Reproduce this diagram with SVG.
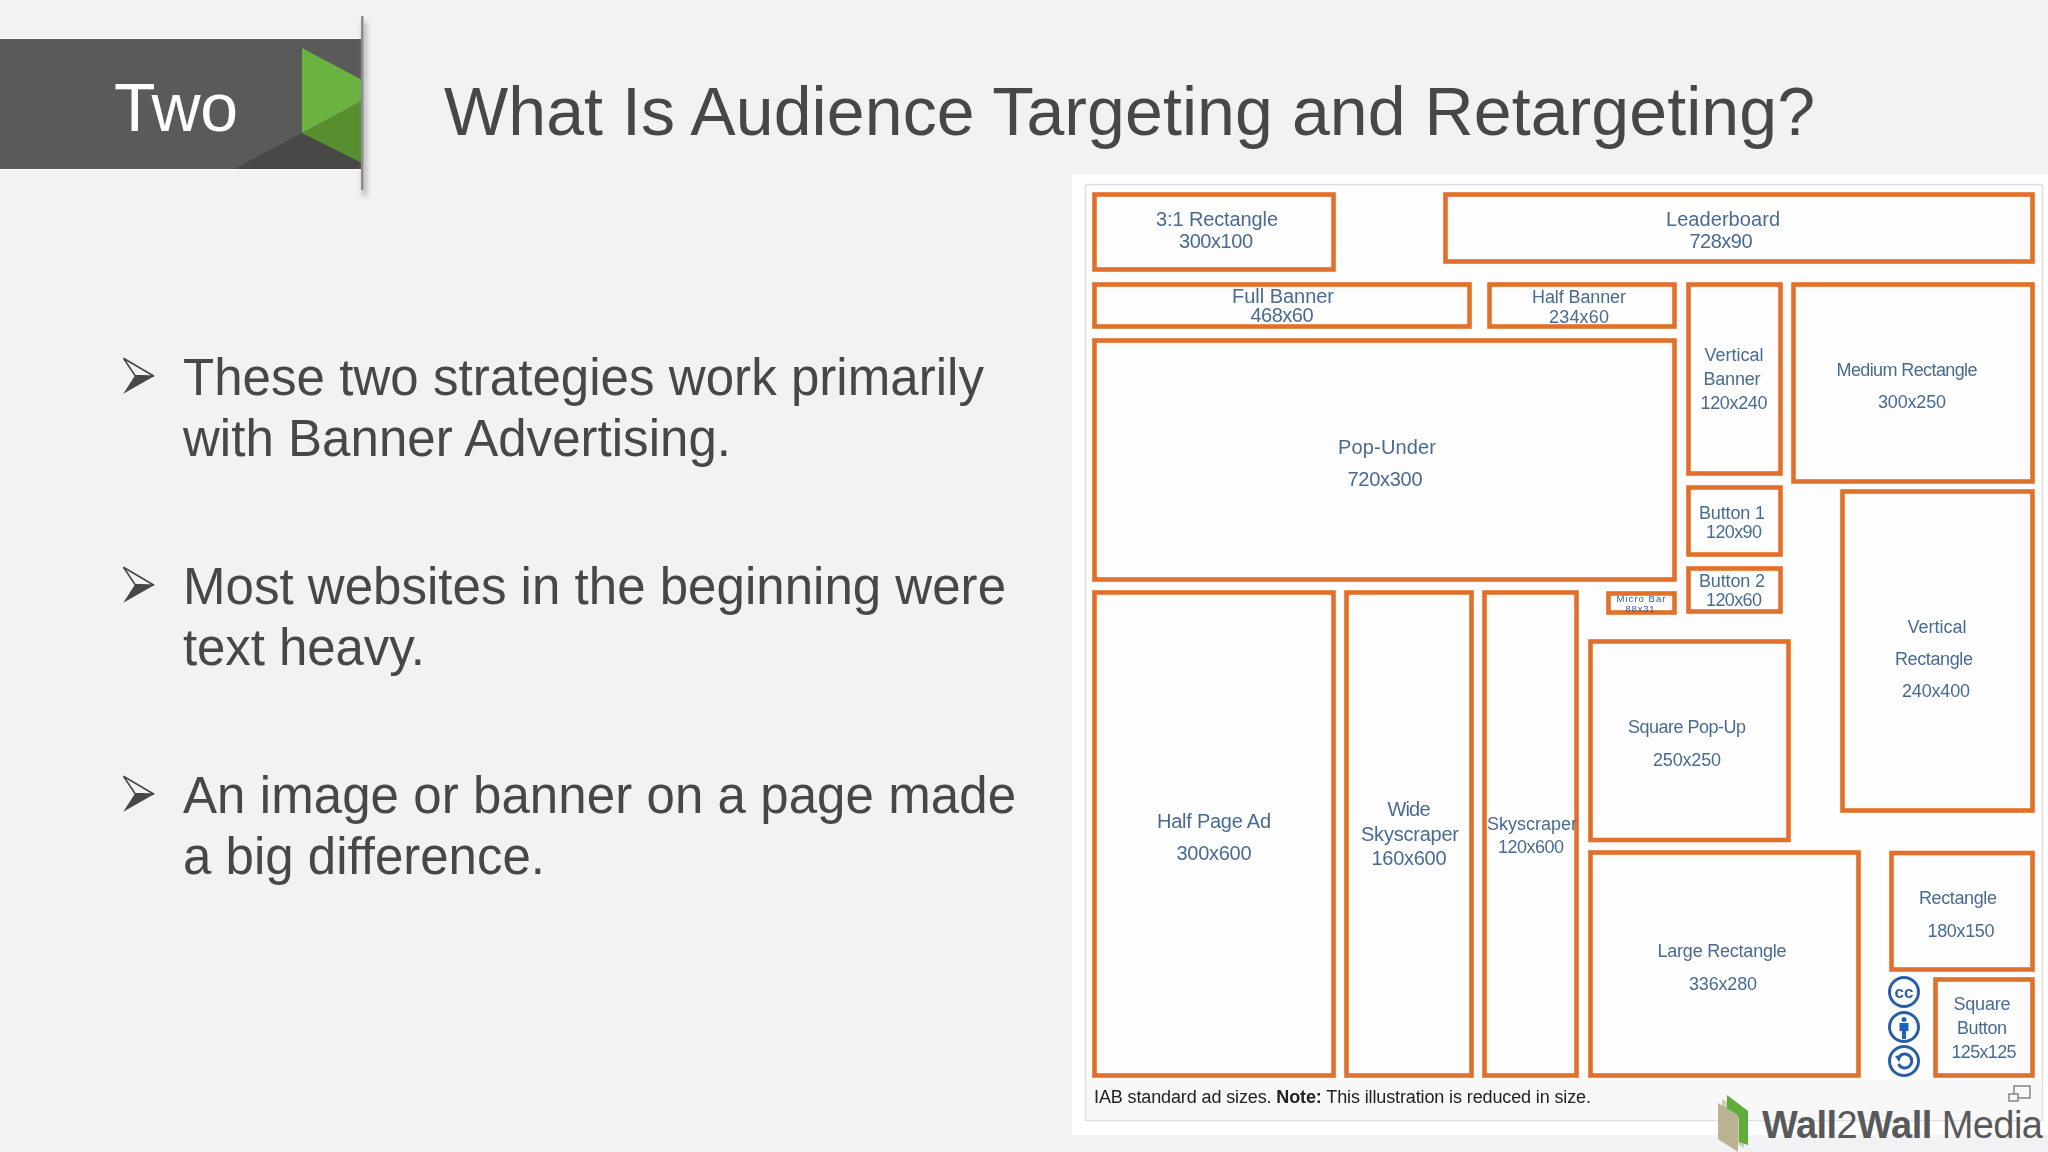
<svg xmlns="http://www.w3.org/2000/svg" width="2048" height="1152" viewBox="0 0 2048 1152">
<style>
text{font-family:"Liberation Sans",Arial,sans-serif}
.title{font-size:68px;fill:#474748}
.body{font-size:51px;fill:#474748}
.box{fill:none;stroke:#e0702c;stroke-width:4.6}
.lab{font-size:20px;fill:#4a6b92;text-anchor:middle}
.sm{font-size:18px}
.mic{font-size:9.5px;fill:#2c5f9e;text-anchor:middle}
.cc{fill:#fff;stroke:#2a5ca8;stroke-width:3}
</style>
<defs>
<filter id="soft" x="-2%" y="-2%" width="104%" height="104%"><feGaussianBlur stdDeviation="0.6"/></filter>
<filter id="sh" x="-300%" y="-5%" width="700%" height="110%"><feGaussianBlur stdDeviation="2.5"/></filter>
<g id="bul">
<path d="M123.500 358.300L154 376.200L135 375.500Z" fill="none" stroke="#474748" stroke-width="1.600"/>
<path d="M123.300 393.800L135 375.500L154 376.200Z" fill="#474748"/>
</g>
</defs>
<rect width="2048" height="1152" fill="#f2f2f4"/>
<g id="header">
<rect x="0" y="38" width="362" height="132" fill="#fff" opacity=".8"/>
<rect x="0" y="39" width="362" height="130" fill="#5a5a5b"/>
<polygon points="234,169 302,133 362,163 362,169" fill="#484846"/>
<polygon points="302,48 362,80 362,101 302,133" fill="#6bb33f"/>
<polygon points="302,133 362,101 362,163" fill="#578f2f"/>
<rect x="362" y="22" width="5" height="174" fill="#8a8a8a" opacity=".55" filter="url(#sh)"/>
<rect x="361" y="16" width="2.500" height="174" fill="#8c8c8e"/>
<text x="114" y="131" font-size="68" fill="#fff" textLength="124">Two</text>
</g>
<text class="title" x="444" y="134.500" textLength="1371">What Is Audience Targeting and Retargeting?</text>
<g id="bullets">
<g id="bullet-1">
<use href="#bul"/>
<text class="body" x="183" y="394.500" textLength="801">These two strategies work primarily</text>
<text class="body" x="183" y="455.500" textLength="548">with Banner Advertising.</text>
</g>
<g id="bullet-2">
<use href="#bul" y="209"/>
<text class="body" x="183" y="603.500" textLength="823">Most websites in the beginning were</text>
<text class="body" x="183" y="664.500" textLength="242">text heavy.</text>
</g>
<g id="bullet-3">
<use href="#bul" y="418"/>
<text class="body" x="183" y="812.500" textLength="833">An image or banner on a page made</text>
<text class="body" x="183" y="873.500" textLength="362">a big difference.</text>
</g>
</g>
<g id="ad-sizes">
<rect x="1072" y="174" width="976" height="961" fill="#fff"/>
<rect x="1085.500" y="184.500" width="957" height="936" fill="#fdfdfd" stroke="#dfdfe2" stroke-width="1.500"/>
<rect x="1087" y="1080" width="954" height="40" fill="#f8f8f9"/>
<g filter="url(#soft)">
<g id="r31"><rect class="box" x="1094.500" y="194.500" width="239" height="75"/><text class="lab" x="1217" y="226" textLength="122">3:1 Rectangle</text><text class="lab" x="1216" y="248" textLength="74">300x100</text></g>
<g id="leaderboard"><rect class="box" x="1445.500" y="194.500" width="587" height="67"/><text class="lab" x="1723" y="226" textLength="114">Leaderboard</text><text class="lab" x="1721" y="248" textLength="63">728x90</text></g>
<g id="full-banner"><rect class="box" x="1094.500" y="284.500" width="375" height="42"/><text class="lab" x="1283" y="303" textLength="102">Full Banner</text><text class="lab" x="1282" y="322" textLength="63">468x60</text></g>
<g id="half-banner"><rect class="box" x="1489.500" y="284.500" width="185" height="42"/><text class="lab sm" x="1579" y="302.500" textLength="94">Half Banner</text><text class="lab sm" x="1579" y="322.500" textLength="60">234x60</text></g>
<g id="pop-under"><rect class="box" x="1094.500" y="340.500" width="580" height="239"/><text class="lab" x="1387" y="453.500" textLength="98">Pop-Under</text><text class="lab" x="1385" y="486" textLength="75">720x300</text></g>
<g id="vertical-banner"><rect class="box" x="1688.500" y="284.500" width="92" height="189"/><text class="lab sm" x="1734" y="361" textLength="59">Vertical</text><text class="lab sm" x="1732" y="385" textLength="57">Banner</text><text class="lab sm" x="1734" y="409" textLength="67">120x240</text></g>
<g id="medium-rectangle"><rect class="box" x="1793.500" y="284.500" width="239" height="197"/><text class="lab sm" x="1907" y="376" textLength="141">Medium Rectangle</text><text class="lab sm" x="1912" y="408" textLength="68">300x250</text></g>
<g id="button-1"><rect class="box" x="1688.500" y="487.500" width="92" height="67"/><text class="lab sm" x="1732" y="519" textLength="66">Button 1</text><text class="lab sm" x="1734" y="538" textLength="56">120x90</text></g>
<g id="button-2"><rect class="box" x="1688.500" y="568.500" width="92" height="43"/><text class="lab sm" x="1732" y="587" textLength="66">Button 2</text><text class="lab sm" x="1734" y="606" textLength="56">120x60</text></g>
<g id="micro-bar"><rect class="box" x="1608.500" y="593.500" width="66" height="19"/><text class="mic" x="1641" y="601.500" textLength="49">Micro Bar</text><text class="mic" x="1640" y="611.500" textLength="29">88x31</text></g>
<g id="vertical-rectangle"><rect class="box" x="1842.500" y="491.500" width="190" height="319"/><text class="lab sm" x="1937" y="633" textLength="59">Vertical</text><text class="lab sm" x="1934" y="665" textLength="78">Rectangle</text><text class="lab sm" x="1936" y="697" textLength="68">240x400</text></g>
<g id="square-pop-up"><rect class="box" x="1590.500" y="641.500" width="198" height="198.500"/><text class="lab sm" x="1687" y="733" textLength="118">Square Pop-Up</text><text class="lab sm" x="1687" y="766" textLength="68">250x250</text></g>
<g id="large-rectangle"><rect class="box" x="1590.500" y="852.500" width="268" height="223"/><text class="lab sm" x="1722" y="957" textLength="129">Large Rectangle</text><text class="lab sm" x="1723" y="990" textLength="68">336x280</text></g>
<g id="rectangle"><rect class="box" x="1891.500" y="853" width="141" height="116.500"/><text class="lab sm" x="1958" y="904" textLength="78">Rectangle</text><text class="lab sm" x="1961" y="937" textLength="67">180x150</text></g>
<g id="square-button"><rect class="box" x="1935.500" y="979.500" width="97" height="96"/><text class="lab sm" x="1982" y="1010" textLength="57">Square</text><text class="lab sm" x="1982" y="1034" textLength="50">Button</text><text class="lab sm" x="1984" y="1058" textLength="65">125x125</text></g>
<g id="half-page"><rect class="box" x="1094.500" y="592.500" width="239" height="483"/><text class="lab" x="1214" y="828" textLength="114">Half Page Ad</text><text class="lab" x="1214" y="860" textLength="75">300x600</text></g>
<g id="wide-skyscraper"><rect class="box" x="1346.500" y="592.500" width="125" height="483"/><text class="lab" x="1409" y="816" textLength="43">Wide</text><text class="lab" x="1410" y="841" textLength="98">Skyscraper</text><text class="lab" x="1409" y="865" textLength="75">160x600</text></g>
<g id="skyscraper"><rect class="box" x="1484.500" y="592.500" width="92" height="483"/><text class="lab sm" x="1532" y="830" textLength="90">Skyscraper</text><text class="lab sm" x="1531" y="853" textLength="66">120x600</text></g>
<g id="licence-icons">
<circle class="cc" cx="1904" cy="992" r="14.500"/><text x="1904" y="998" font-size="17" font-weight="700" fill="#2a5ca8" text-anchor="middle">cc</text>
<circle class="cc" cx="1904" cy="1027" r="14.500"/><circle cx="1904" cy="1019.500" r="2.500" fill="#1f62b8"/><path d="M1899.500 1023h9v8h-2.500v8h-4v-8h-2.500z" fill="#1f62b8"/>
<circle class="cc" cx="1904" cy="1061" r="14.500"/><path d="M1899 1057a7 7 0 1 1 -0.500 7" fill="none" stroke="#2a5ca8" stroke-width="3"/><path d="M1895 1056l7 -1l-3 7z" fill="#2a5ca8"/>
</g>
<text x="1094" y="1103" font-size="18" fill="#222" textLength="497">IAB standard ad sizes. <tspan font-weight="700">Note:</tspan> This illustration is reduced in size.</text>
<g id="enlarge-icon" fill="none" stroke="#8c8c8e" stroke-width="1.600"><rect x="2014" y="1086" width="16" height="12"/><rect x="2009" y="1094" width="9" height="7" fill="#f8f8f9"/></g>
</g>
</g>
<g id="logo">
<polygon points="1722,1099 1744,1113 1744,1148 1722,1134" fill="#cfcab5"/>
<polygon points="1727,1095 1748,1111 1748,1145 1739,1142 1739,1118 1727,1110" fill="#5cae38"/>
<polygon points="1718,1103 1738,1115 1738,1152 1718,1139" fill="#b9b394"/>
<text x="1762" y="1138" font-size="38" fill="#58595b" textLength="281"><tspan font-weight="700">Wall</tspan>2<tspan font-weight="700">Wall</tspan> Media</text>
</g>
</svg>
